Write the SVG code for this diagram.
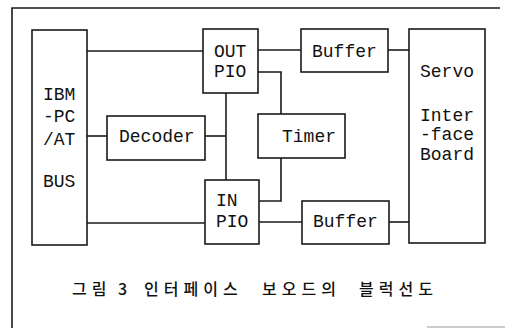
<svg xmlns="http://www.w3.org/2000/svg" width="505" height="328" viewBox="0 0 505 328">
<style>
.box{fill:#fff;stroke:#1a1a1a;stroke-width:1.6}
.ln{fill:none;stroke:#1a1a1a;stroke-width:1.6}
.t{font-family:"Liberation Mono","DejaVu Sans Mono",monospace;font-size:18px;fill:#111}
.k{font-family:"Noto Sans CJK KR",sans-serif;font-size:16px;font-weight:500;fill:#111;letter-spacing:5px}
</style>
<rect width="505" height="328" fill="#fff"/>
<g id="frame">
<path class="ln" d="M12,328 V8 H500"/>
<path d="M427,327 H505" stroke="#999" stroke-width="1.2" fill="none"/>
</g>
<g id="connectors">
<path class="ln" d="M87,51 H203"/>
<path class="ln" d="M87,136 H107"/>
<path class="ln" d="M205,136 H226"/>
<path class="ln" d="M226,93 V180"/>
<path class="ln" d="M87,223 H205"/>
<path class="ln" d="M258,50 H301"/>
<path class="ln" d="M388,50 H409"/>
<path class="ln" d="M258,72 H281 V114"/>
<path class="ln" d="M281,158 V201 H259"/>
<path class="ln" d="M259,222 H302"/>
<path class="ln" d="M389,222 H409"/>
</g>
<g id="bus">
<rect class="box" x="32" y="30" width="55" height="215"/>
<text class="t" x="43" y="100">IBM</text>
<text class="t" x="43" y="122">-PC</text>
<text class="t" x="43" y="145">/AT</text>
<text class="t" x="43" y="187">BUS</text>
</g>
<g id="decoder">
<rect class="box" x="107" y="116" width="98" height="44"/>
<text class="t" x="119" y="142">Decoder</text>
</g>
<g id="outpio">
<rect class="box" x="203" y="29" width="55" height="64"/>
<text class="t" x="214" y="57">OUT</text>
<text class="t" x="214" y="77">PIO</text>
</g>
<g id="inpio">
<rect class="box" x="205" y="180" width="54" height="64"/>
<text class="t" x="216" y="206">IN</text>
<text class="t" x="216" y="227">PIO</text>
</g>
<g id="timer">
<rect class="box" x="258" y="114" width="87" height="44"/>
<text class="t" x="282" y="142">Timer</text>
</g>
<g id="buffer1">
<rect class="box" x="301" y="29" width="87" height="43"/>
<text class="t" x="312" y="57">Buffer</text>
</g>
<g id="buffer2">
<rect class="box" x="302" y="201" width="87" height="43"/>
<text class="t" x="313" y="227">Buffer</text>
</g>
<g id="servo">
<rect class="box" x="409" y="29" width="76" height="214"/>
<text class="t" x="420" y="77">Servo</text>
<text class="t" x="420" y="121">Inter</text>
<text class="t" x="420" y="140">-face</text>
<text class="t" x="420" y="160">Board</text>
</g>
<g id="caption">
<text class="k" y="295"><tspan x="72">그림</tspan><tspan x="118">3</tspan><tspan x="144">인터페이스</tspan><tspan x="262">보오드의</tspan><tspan x="359">블럭선도</tspan></text>
</g>
</svg>
